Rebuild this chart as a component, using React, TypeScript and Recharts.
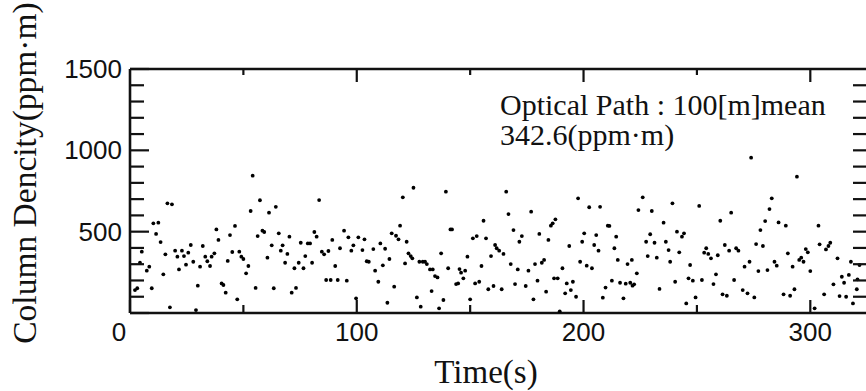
import React from 'react';
import { ScatterChart, Scatter, XAxis, YAxis } from 'recharts';

const timeSec = [
  2.2, 3.2, 4.4, 5.2, 7.4, 8.5, 9.6, 10.3, 11.5, 12.5, 13.5, 14.7, 15.6, 16.5, 17.6, 18.5, 19.9, 20.9, 21.6, 22.9,
  23.8, 24.7, 25.7, 26.8, 27.9, 29.1, 29.9, 30.9, 32.1, 33.2, 34.1, 35.3, 36.0, 37.2, 38.1, 39.0, 40.4, 41.2, 42.2, 43.1,
  44.1, 45.1, 46.3, 47.3, 48.2, 49.1, 50.0, 51.2, 52.2, 53.2, 54.1, 55.4, 56.3, 57.3, 58.4, 59.2, 60.6, 61.3, 62.5, 63.4,
  64.3, 65.6, 66.5, 67.3, 68.4, 69.4, 70.3, 71.3, 72.5, 73.2, 74.4, 75.3, 76.5, 77.3, 78.4, 79.4, 80.3, 81.3, 82.3, 83.4,
  84.6, 85.6, 86.5, 87.5, 88.5, 89.2, 90.5, 91.6, 92.6, 94.4, 95.6, 96.3, 97.6, 98.5, 99.7, 100.7, 102.5, 103.4, 104.4, 105.3,
  107.3, 108.1, 109.5, 110.4, 111.5, 112.5, 113.5, 114.4, 115.4, 116.5, 117.3, 118.4, 119.1, 120.3, 121.3, 122.0, 122.8, 123.8, 124.5, 125.0,
  126.5, 127.6, 128.2, 129.1, 130.1, 130.9, 132.3, 133.0, 133.5, 134.5, 135.6, 136.3, 137.2, 138.2, 139.3, 140.3, 141.3, 142.0, 143.8, 144.7,
  145.3, 146.0, 147.0, 147.8, 148.8, 150.0, 151.2, 152.2, 152.9, 154.0, 155.0, 155.9, 157.0, 158.0, 159.2, 160.3, 161.0, 161.7, 162.8, 163.9,
  164.7, 165.9, 166.9, 167.9, 169.1, 169.8, 171.0, 171.7, 172.8, 174.5, 175.7, 176.9, 177.9, 178.6, 179.7, 180.5, 181.6, 182.6, 183.5, 184.5,
  185.6, 186.4, 187.0, 187.6, 188.6, 189.5, 190.7, 191.9, 192.6, 193.7, 194.4, 195.3, 196.7, 197.6, 198.5, 199.4, 200.3, 201.4, 202.5, 203.7,
  204.7, 205.6, 206.6, 207.3, 208.5, 209.7, 210.7, 211.4, 212.5, 213.6, 214.4, 215.1, 216.1, 217.6, 218.6, 219.4, 220.6, 221.3, 221.6, 222.3,
  223.5, 224.2, 226.1, 227.6, 228.3, 229.4, 230.1, 231.3, 232.3, 233.5, 235.3, 236.3, 237.5, 238.2, 239.2, 240.4, 241.2, 242.2, 243.4, 244.3,
  245.3, 246.3, 247.0, 248.2, 249.4, 251.0, 252.2, 253.2, 254.1, 255.0, 256.2, 257.3, 258.4, 259.2, 260.3, 261.3, 262.3, 263.2, 264.2, 265.1,
  266.4, 267.3, 268.3, 270.2, 271.0, 272.3, 273.2, 273.9, 275.3, 276.1, 277.1, 278.0, 279.1, 280.1, 281.1, 282.0, 283.0, 284.2, 285.2, 286.0,
  288.2, 289.2, 290.1, 291.1, 292.2, 293.0, 294.1, 295.1, 296.0, 297.0, 298.0, 298.9, 300.0, 301.9, 303.6, 304.1, 306.1, 306.9, 308.0, 308.8,
  310.2, 312.0, 312.9, 313.9, 314.9, 315.8, 317.0, 317.9, 318.8, 320.5, 320.8, 321.7,
];

const columnDensity = [
  141, 152, 309, 377, 260, 285, 152, 551, 486, 555, 436, 238, 361, 674, 35, 668, 383, 346, 268, 383,
  350, 297, 371, 418, 315, 18, 168, 285, 412, 346, 318, 289, 346, 367, 514, 449, 182, 172, 125, 320,
  479, 375, 535, 84, 377, 346, 332, 244, 289, 627, 844, 154, 473, 693, 506, 498, 340, 617, 416, 152,
  653, 490, 383, 416, 309, 363, 469, 125, 275, 154, 309, 432, 275, 350, 428, 428, 309, 498, 469, 694,
  377, 361, 203, 381, 203, 449, 289, 203, 398, 506, 199, 465, 383, 416, 90, 465, 387, 453, 318, 315,
  393, 260, 192, 428, 293, 395, 63, 332, 490, 162, 475, 453, 537, 711, 305, 438, 367, 350, 336, 770,
  96, 315, 39, 315, 315, 301, 268, 135, 268, 227, 219, 29, 367, 80, 746, 275, 514, 514, 178, 182,
  270, 248, 213, 260, 346, 84, 459, 182, 473, 192, 289, 567, 459, 146, 350, 166, 418, 398, 383, 146,
  363, 746, 608, 301, 510, 178, 268, 438, 473, 166, 260, 623, 84, 301, 199, 486, 309, 326, 131, 449,
  537, 551, 213, 576, 213, 10, 275, 121, 182, 412, 141, 192, 100, 705, 315, 438, 490, 291, 650, 275,
  418, 479, 383, 653, 94, 156, 537, 535, 199, 398, 469, 326, 186, 90, 180, 301, 186, 326, 168, 176,
  244, 633, 711, 438, 350, 484, 627, 432, 340, 148, 555, 438, 387, 315, 674, 192, 500, 373, 469, 490,
  59, 213, 295, 199, 96, 658, 203, 371, 398, 363, 336, 178, 238, 355, 567, 115, 418, 106, 383, 617,
  203, 398, 383, 141, 285, 121, 315, 955, 96, 424, 258, 510, 412, 565, 264, 639, 705, 315, 291, 557,
  115, 537, 367, 106, 285, 146, 838, 326, 340, 315, 393, 373, 258, 29, 537, 422, 115, 391, 412, 432,
  176, 336, 104, 223, 186, 100, 234, 315, 59, 146, 207, 295,
];

const xTicks = [0, 50, 100, 150, 200, 250, 300];
const yTicks = [0, 100, 200, 300, 400, 500, 600, 700, 800, 900, 1000, 1100, 1200, 1300, 1400, 1500];
const xDomain = [0, 325];
const yDomain = [0, 1500];
const xLabel = 'Time(s)';
const yLabel = 'Column Dencity(ppm·m)';
const noteLines = ['Optical Path : 100[m]mean', '342.6(ppm·m)'];

const data = timeSec.map((t, i) => ({ t, v: columnDensity[i] }));

const SANS = '"Liberation Sans", Arial, Helvetica, sans-serif';
const SERIF = '"Liberation Serif", "Times New Roman", Times, serif';
const INK = '#111';

// chart layout
const CHART_W = 880;
const CHART_H = 391;
const MARGIN = { top: 68, right: 13, bottom: 0, left: 0 };
const Y_AXIS_W = 130;
const X_AXIS_H = 78;
const TOP_AXIS_H = 1;
const PLOT_W = CHART_W - MARGIN.left - MARGIN.right - Y_AXIS_W;
const PLOT_H = CHART_H - MARGIN.top - MARGIN.bottom - X_AXIS_H - TOP_AXIS_H;

// bottom axis tick: draws the bottom tick + label and the matching tick on the top frame
const BottomTick = (p: any) => {
  const { x, y, payload } = p;
  const v = payload.value;
  const major = v % 100 === 0;
  const len = major ? 13 : 8;
  return (
    <g>
      <line x1={x} x2={x} y1={y} y2={y - len} stroke={INK} strokeWidth={2.2} />
      {v !== 0 && <line x1={x} x2={x} y1={y - PLOT_H} y2={y - PLOT_H + (major ? 13 : 6)} stroke={INK} strokeWidth={2.2} />}
      {major && (
        <text x={v === 0 ? x - 11 : x} y={y + 28} textAnchor="middle" fontSize={26} fontFamily={SANS} fill={INK}>
          {v}
        </text>
      )}
    </g>
  );
};

// left axis tick: draws the left tick + label and the matching tick on the right frame
const LeftTick = (p: any) => {
  const { x, y, payload } = p;
  const v = payload.value;
  const major = v % 500 === 0;
  return (
    <g>
      <line x1={x} x2={x + (major ? 19 : 14)} y1={y} y2={y} stroke={INK} strokeWidth={2.2} />
      {v > 0 && v < 1500 && (
        <line x1={x + PLOT_W - 14} x2={x + PLOT_W} y1={y} y2={y} stroke={INK} strokeWidth={2.2} />
      )}
      {major && v !== 0 && (
        <text x={x - 8} y={y + 9} textAnchor="end" fontSize={26} fontFamily={SANS} fill={INK}>
          {v}
        </text>
      )}
    </g>
  );
};

const Dot = (p: any) => <circle cx={p.cx} cy={p.cy} r={1.9} fill="#000" />;

export default function App() {
  return (
    <div style={{ position: 'absolute', left: 0, top: 0, width: 866, height: 391, overflow: 'hidden', background: '#fff' }}>
      <ScatterChart width={CHART_W} height={CHART_H} margin={MARGIN}>
        <XAxis
          xAxisId="b"
          type="number"
          dataKey="t"
          domain={xDomain}
          ticks={xTicks}
          interval={0}
          allowDataOverflow
          orientation="bottom"
          height={X_AXIS_H}
          tickSize={0}
          tickMargin={0}
          tickLine={false}
          axisLine={{ stroke: INK, strokeWidth: 2.6 }}
          tick={(p: any) => <BottomTick {...p} />}
        />
        <XAxis
          xAxisId="top"
          type="number"
          dataKey="t"
          domain={xDomain}
          allowDataOverflow
          orientation="top"
          height={TOP_AXIS_H}
          tickLine={false}
          tick={false}
          axisLine={{ stroke: INK, strokeWidth: 2.6 }}
        />
        <YAxis
          yAxisId="l"
          type="number"
          dataKey="v"
          domain={yDomain}
          ticks={yTicks}
          interval={0}
          allowDataOverflow
          orientation="left"
          width={Y_AXIS_W}
          tickSize={0}
          tickMargin={0}
          tickLine={false}
          axisLine={{ stroke: INK, strokeWidth: 2.6 }}
          tick={(p: any) => <LeftTick {...p} />}
        />
        <Scatter xAxisId="b" yAxisId="l" data={data} isAnimationActive={false} shape={(p: any) => <Dot {...p} />} />
      </ScatterChart>
      <svg width={866} height={391} style={{ position: 'absolute', left: 0, top: 0, pointerEvents: 'none' }}>
        <text x={486} y={383} textAnchor="middle" fontSize={33} fontFamily={SERIF} fill={INK}>
          {xLabel}
        </text>
        <text x={36} y={173} textAnchor="middle" fontSize={33.5} fontFamily={SERIF} fill={INK} transform="rotate(-90 36 173)">
          {yLabel}
        </text>
        <text x={500} y={115} fontSize={30} fontFamily={SERIF} fill={INK}>
          {noteLines[0]}
        </text>
        <text x={500} y={145} fontSize={30} fontFamily={SERIF} fill={INK}>
          {noteLines[1]}
        </text>
      </svg>
    </div>
  );
}
